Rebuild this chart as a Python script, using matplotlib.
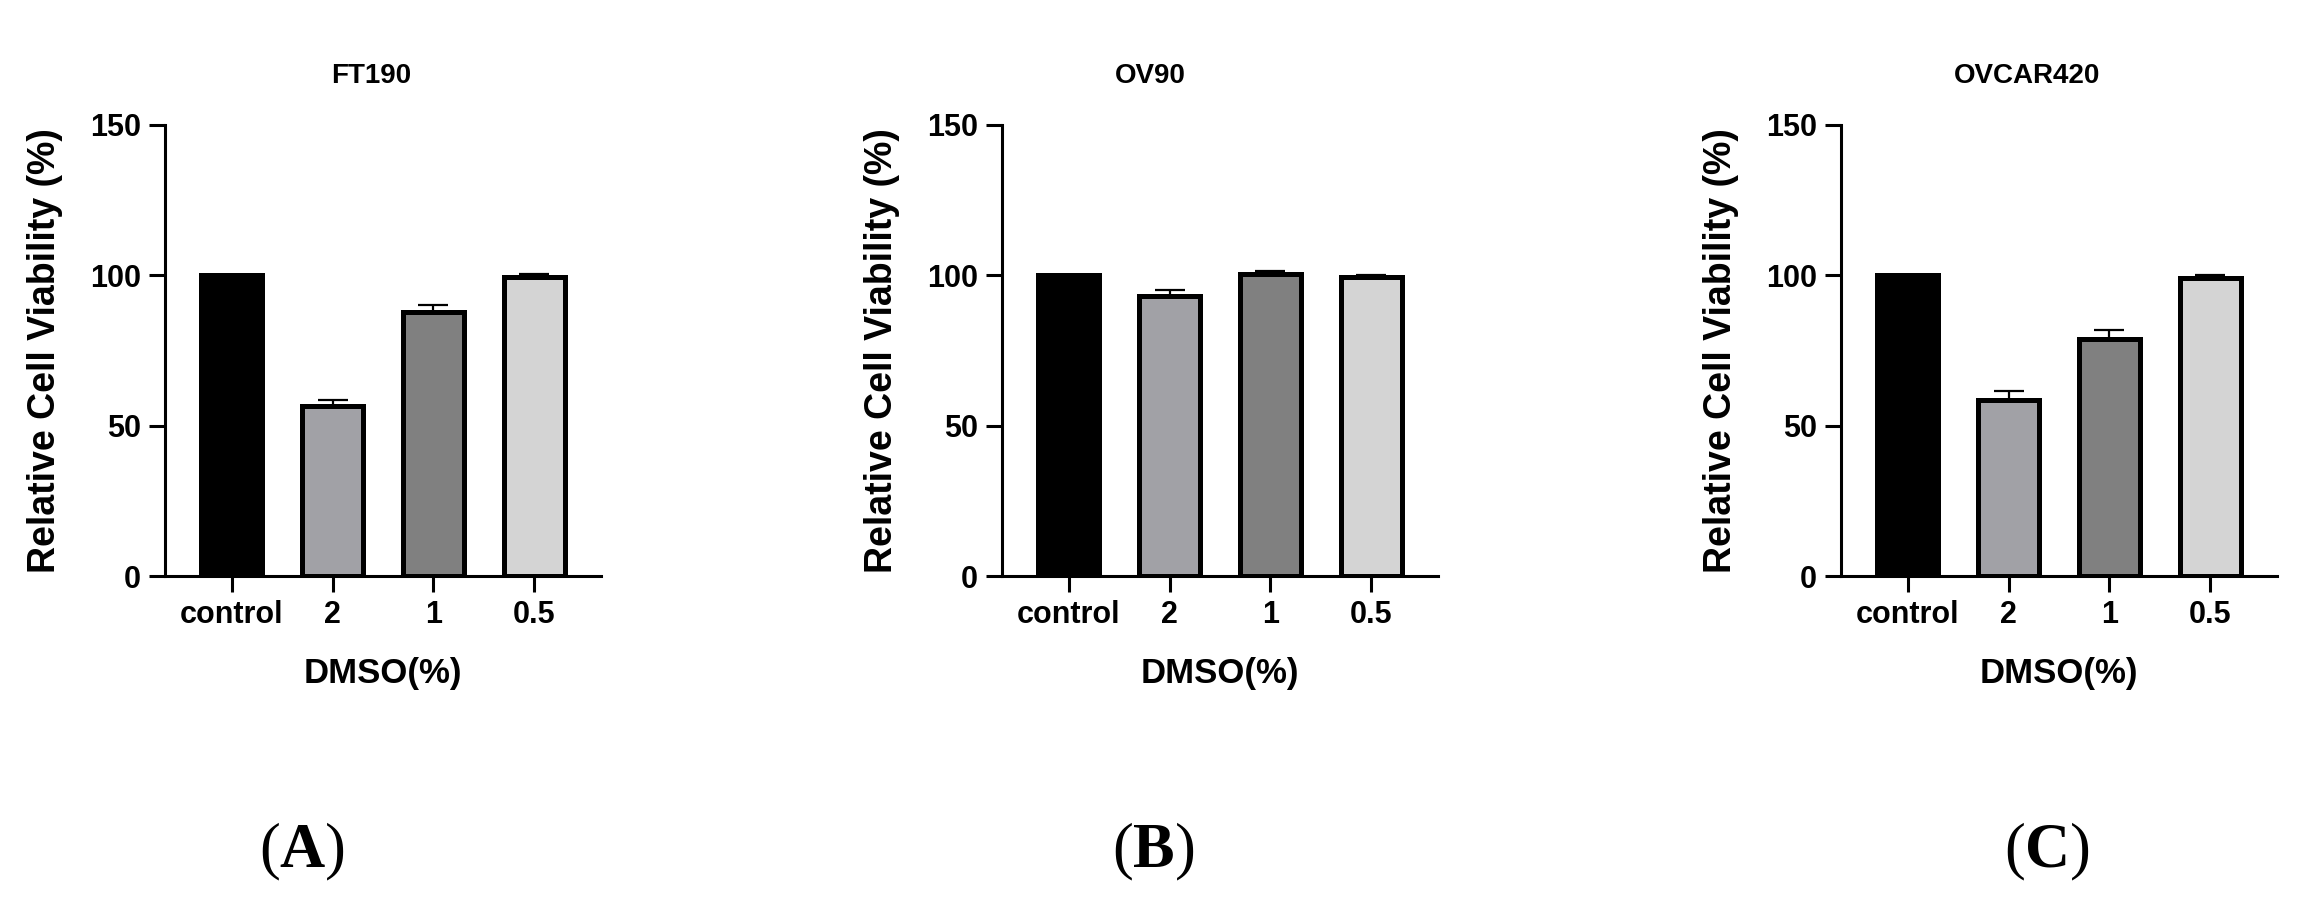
import matplotlib
matplotlib.use('Agg')
import matplotlib.pyplot as plt

plt.rcParams['font.family'] = 'Liberation Sans'
plt.rcParams['font.weight'] = 'bold'
plt.rcParams['axes.labelweight'] = 'bold'
plt.rcParams['mathtext.fontset'] = 'custom'
plt.rcParams['mathtext.rm'] = 'Liberation Serif'
plt.rcParams['mathtext.bf'] = 'Liberation Serif:bold'

# data
groups = ['control', '2', '1', '0.5']
titles = ['FT190', 'OV90', 'OVCAR420']
tags = ['A', 'B', 'C']

ft190 = [100, 56.5, 87.8, 99.5]
ft190_err = [0, 2.0, 2.2, 0.8]
ov90 = [100, 93.0, 100.5, 99.5]
ov90_err = [0, 2.0, 1.0, 0.7]
ovcar420 = [100, 58.7, 78.7, 99.2]
ovcar420_err = [0, 2.8, 3.2, 1.0]

bar_colors = ['#000000', '#a1a1a6', '#808080', '#d4d4d4']

means = [ft190, ov90, ovcar420]
errs = [ft190_err, ov90_err, ovcar420_err]

W, H = 2300, 900
fig = plt.figure(figsize=(W / 100, H / 100), dpi=100)

axes_left = [165, 1002, 1841]
title_x = [371, 1150, 2027]
tag_x = [302, 1153, 2047]

for i in range(3):
    ax = fig.add_axes([axes_left[i] / W, (H - 576) / H, 436 / W, 451 / H])
    x = list(range(len(groups)))
    ax.bar(x, means[i], width=0.6, color=bar_colors, edgecolor='black',
           linewidth=3.6, zorder=2)
    # only the upper half of the error bar is shown
    ax.errorbar(x[1:], means[i][1:], yerr=[[0] * 3, errs[i][1:]], fmt='none',
                ecolor='black', elinewidth=1.6, capsize=11, capthick=1.6, zorder=3)

    ax.set_xlim(-0.66, 3.66)
    ax.set_ylim(0, 150)
    ax.set_yticks([0, 50, 100, 150])
    ax.set_xticks(x)
    ax.set_xticklabels(groups)
    for s in ['top', 'right']:
        ax.spines[s].set_visible(False)
    for s in ['left', 'bottom']:
        ax.spines[s].set_linewidth(2.2)
    ax.tick_params(axis='both', width=2.2, length=11.5, labelsize=22, pad=6)

    ax.set_ylabel('Relative Cell Viability (%)', fontsize=27)
    ax.yaxis.set_label_coords(-0.235, 0.5)
    ax.set_xlabel('DMSO(%)', fontsize=25)
    ax.xaxis.set_label_coords(0.5, -0.18)

    fig.text(title_x[i] / W, 1 - 76 / H, titles[i], ha='center', va='center',
             fontsize=20)
    fig.text(tag_x[i] / W, 1 - 852 / H, r'($\mathbf{' + tags[i] + '}$)',
             family='Liberation Serif', fontweight='normal', fontsize=45,
             ha='center', va='center')

fig.savefig('out.png', dpi=100)
